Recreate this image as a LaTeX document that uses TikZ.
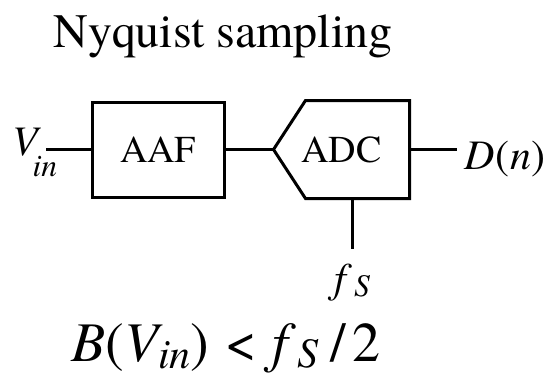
\documentclass[tikz,border=0pt]{standalone}
\usepackage{fontspec}
\setmainfont{texgyretermes}[Extension=.otf, UprightFont=*-regular,
    ItalicFont=*-italic, BoldFont=*-bold, BoldItalicFont=*-bolditalic]
\usetikzlibrary{positioning, calc}

% lowered, smaller italic subscript
\newcommand{\lowsub}[2][0.35em]{\raisebox{-#1}{\scalebox{0.75}{\textit{#2}}}}

\begin{document}
\begin{tikzpicture}[
    x=1pt, y=-1pt,
    node distance=48pt,
    blk/.style={rectangle, draw, line width=3pt, minimum width=132pt,
                minimum height=95pt, inner sep=0pt,
                font=\rmfamily\fontsize{38}{40}\selectfont},
    adcbox/.style={blk, draw=none, minimum width=133pt},
    wire/.style={line width=2.8pt},
    lbl/.style={inner sep=0pt, font=\rmfamily\fontsize{42}{44}\selectfont},
    ttl/.style={inner sep=0pt, font=\rmfamily\fontsize{48}{52}\selectfont},
    eqn/.style={inner sep=0pt, font=\rmfamily\fontsize{56}{58}\selectfont}
]
\useasboundingbox (0,0) rectangle (550,378);

% =========== title ===========
\node[ttl, anchor=base] (title) at (223,47) {Nyquist sampling};

% =========== signal chain ===========
\node[blk]                   (aaf)  at (158,149.5) {AAF};
\node[adcbox, right=of aaf]  (adc)  {ADC};
\draw[blk] (adc.north east) -- ([xshift=32pt]adc.north west) -- (adc.west)
    -- ([xshift=32pt]adc.south west) -- (adc.south east) -- cycle;

\node[lbl, anchor=base west] (vin)  at (12,155)
    {\textit{V}\rlap{\kern-0.2em\lowsub[0.5em]{in}}};
\node[lbl, anchor=base west] (dout) at ([xshift=55pt, yshift=-20pt]adc.east)
    {\textit{D}(\kern0.04em\textit{n})};
\node[lbl, anchor=north]     (fs)   at ([xshift=11pt, yshift=-65pt]adc.south)
    {\textit{f}\kern0.04em\lowsub[0.1em]{S}};

\draw[wire] ([xshift=5pt]vin.east |- aaf.west) -- (aaf.west);
\draw[wire] (aaf.east) -- (adc.west);
\draw[wire] (adc.east) -- ([xshift=-8pt]adc.east -| dout.west);
\draw[wire] ([xshift=11pt]adc.south) -- ([yshift=15pt]fs.north);

% =========== condition ===========
\node[eqn, anchor=base] (cond) at (226,361)
    {\textit{B}(\textit{V}\kern-0.08em\lowsub[0.13em]{in})\kern0.28em<\kern0.28em%
     \textit{f}\kern0.03em\lowsub[0.12em]{S}\kern0.2em/\kern0.12em2};

\end{tikzpicture}
\end{document}
